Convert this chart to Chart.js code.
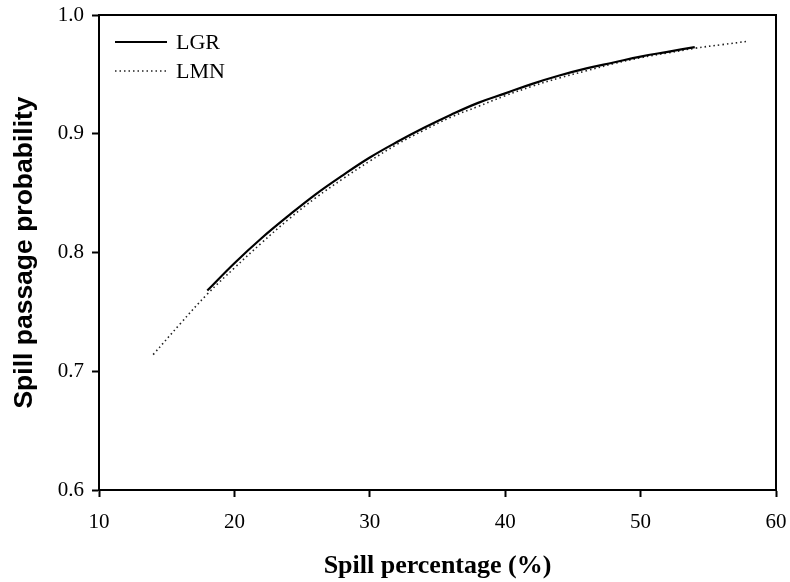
<!DOCTYPE html>
<html>
<head>
<meta charset="utf-8">
<script src="https://cdn.jsdelivr.net/npm/chart.js@4.4.1/dist/chart.umd.min.js"></script>
<style>
  html, body { margin: 0; padding: 0; background: #fff; }
  #wrap { width: 790px; height: 582px; }
</style>
</head>
<body>
<div id="wrap"><canvas id="c" width="790" height="582"></canvas></div>
<script>
// Spill percentage (%) and fitted passage probability for each reach
const lgrSpill = [18, 20, 22, 24, 26, 28, 30, 32, 34, 36, 38, 40, 42, 44, 46, 48, 50, 52, 54];
const lgrProb  = [0.768, 0.791, 0.812, 0.831, 0.849, 0.865, 0.880, 0.893, 0.905, 0.916,
                  0.926, 0.934, 0.942, 0.949, 0.955, 0.960, 0.965, 0.969, 0.973];

const lmnSpill = [14, 16, 18, 20, 22, 24, 26, 28, 30, 32, 34, 36, 38, 40, 42, 44, 46, 48, 50, 52, 54, 56, 58];
const lmnProb  = [0.714, 0.740, 0.765, 0.787, 0.808, 0.828, 0.846, 0.862, 0.877, 0.891,
                  0.903, 0.914, 0.923, 0.932, 0.940, 0.947, 0.953, 0.959, 0.964, 0.968,
                  0.972, 0.975, 0.978];

const seriesNames = ['LGR', 'LMN'];
const xTickValues = [10, 20, 30, 40, 50, 60];
const yTickValues = [0.6, 0.7, 0.8, 0.9, 1.0];

const toPoints = (xs, ys) => xs.map((x, i) => ({ x: x, y: ys[i] }));

const serif = "'Liberation Serif', 'DejaVu Serif', serif";
const sans = "'Liberation Sans', Arial, sans-serif";

// Box around the plot area plus an in-plot legend
const framePlugin = {
  id: 'frameAndLegend',
  afterDraw(chart) {
    const { ctx, chartArea: a } = chart;
    ctx.save();
    ctx.strokeStyle = '#000';
    ctx.lineWidth = 2;
    ctx.beginPath();
    ctx.moveTo(a.left, a.top);
    ctx.lineTo(a.right, a.top);
    ctx.lineTo(a.right, a.bottom);
    ctx.stroke();

    const items = chart.data.datasets;
    const x0 = a.left + 16, x1 = a.left + 68;
    items.forEach((ds, i) => {
      const y = a.top + 27 + i * 29;
      ctx.beginPath();
      ctx.setLineDash(ds.borderDash || []);
      ctx.lineWidth = ds.borderWidth;
      ctx.strokeStyle = ds.borderColor;
      ctx.moveTo(x0, y);
      ctx.lineTo(x1, y);
      ctx.stroke();
      ctx.setLineDash([]);
      ctx.fillStyle = '#000';
      ctx.font = '22px ' + serif;
      ctx.textBaseline = 'middle';
      ctx.textAlign = 'left';
      ctx.fillText(ds.label, x1 + 9, y + 1);
    });
    ctx.restore();
  }
};

new Chart(document.getElementById('c'), {
  type: 'line',
  data: {
    datasets: [
      {
        label: seriesNames[0],
        data: toPoints(lgrSpill, lgrProb),
        borderColor: '#000',
        borderWidth: 2.2,
        pointRadius: 0,
        tension: 0.4,
        fill: false
      },
      {
        label: seriesNames[1],
        data: toPoints(lmnSpill, lmnProb),
        borderColor: '#222',
        borderWidth: 1.6,
        borderDash: [1.5, 3],
        pointRadius: 0,
        tension: 0.4,
        fill: false
      }
    ]
  },
  options: {
    responsive: false,
    animation: false,
    devicePixelRatio: 1,
    layout: { padding: { left: 0, right: 14, top: 15, bottom: 0 } },
    plugins: { legend: { display: false }, tooltip: { enabled: false } },
    scales: {
      x: {
        type: 'linear',
        min: 10, max: 60,
        afterBuildTicks(s) { s.ticks = xTickValues.map(v => ({ value: v })); },
        afterFit(s) { s.height = 92; s.paddingLeft = 0; s.paddingRight = 0; },
        grid: { drawOnChartArea: false, drawTicks: true, tickLength: 7, tickWidth: 2, tickColor: '#000' },
        border: { display: true, color: '#000', width: 2 },
        ticks: { color: '#000', font: { family: serif, size: 21 }, padding: 13, maxRotation: 0,
                 callback: v => String(v) },
        title: { display: true, text: 'Spill percentage (%)', color: '#000',
                 font: { family: serif, size: 26, weight: 'bold', lineHeight: 1.2 },
                 padding: { top: 0, bottom: 0 } }
      },
      y: {
        type: 'linear',
        min: 0.6, max: 1.0,
        afterBuildTicks(s) { s.ticks = yTickValues.map(v => ({ value: v })); },
        afterFit(s) { s.width = 99; s.paddingTop = 0; s.paddingBottom = 0; },
        grid: { drawOnChartArea: false, drawTicks: true, tickLength: 7, tickWidth: 2, tickColor: '#000' },
        border: { display: true, color: '#000', width: 2 },
        ticks: { color: '#000', font: { family: serif, size: 21 }, padding: 8,
                 callback: v => Number(v).toFixed(1) },
        title: { display: true, text: 'Spill passage probability', color: '#000',
                 font: { family: sans, size: 26.5, weight: 'bold', lineHeight: 1.2 },
                 padding: { top: 9, bottom: 0 } }
      }
    }
  },
  plugins: [framePlugin]
});
</script>
</body>
</html>
